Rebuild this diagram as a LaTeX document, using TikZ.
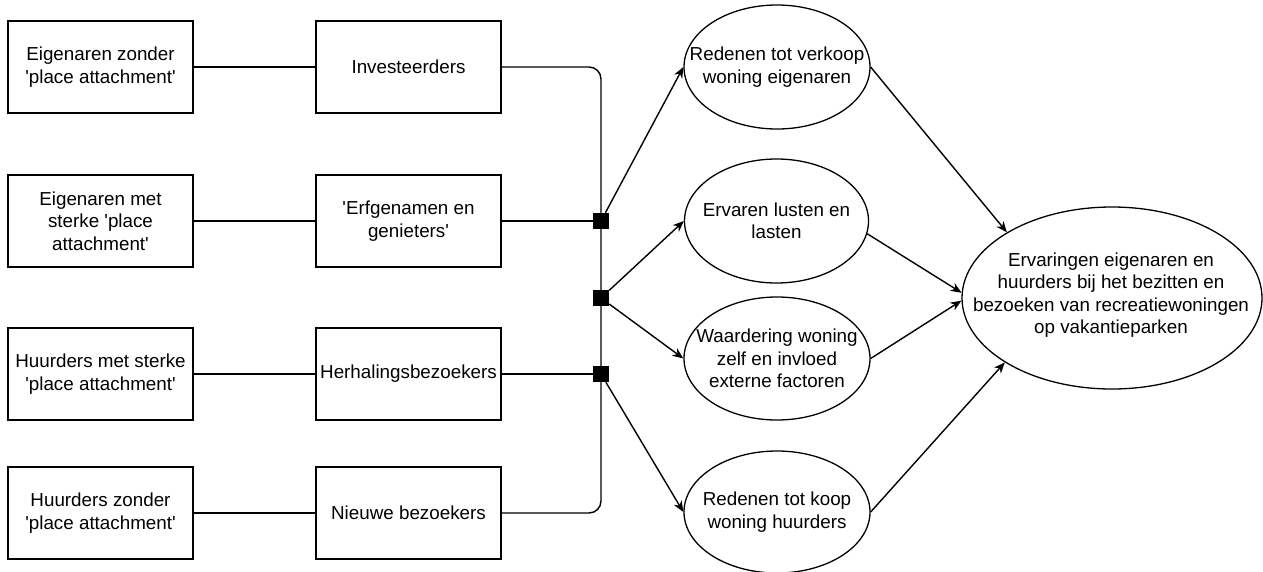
\documentclass[tikz,border=0pt]{standalone}
\usepackage{fontspec}
\setmainfont{Liberation Sans}
\usetikzlibrary{shapes.geometric,arrows.meta}
\newcommand{\qs}{\textquotesingle}
\begin{document}
\begin{tikzpicture}[x=1pt,y=-1pt,
  every node/.style={font=\fontsize{18.8}{22.5}\selectfont, align=center, inner sep=0pt},
  box/.style={draw, line width=1.4pt, minimum width=185pt, minimum height=92pt},
  oval/.style={draw, ellipse, line width=1.3pt},
  joint/.style={fill=black, minimum size=16pt},
  wire/.style={line width=1.4pt},
  arr/.style={line width=1.4pt, -{Stealth[length=11pt,width=9pt,inset=3.5pt]}}]
\useasboundingbox (0,0) rectangle (1263,571);

% groups of owners and renters
\node[box] (l1) at (100.5,67)  {Eigenaren zonder\\\qs place attachment\qs};
\node[box] (l2) at (100.5,221) {Eigenaren met\\sterke \qs place\\attachment\qs};
\node[box] (l3) at (100.5,374) {Huurders met sterke\\\qs place attachment\qs};
\node[box] (l4) at (100.5,513) {Huurders zonder\\\qs place attachment\qs};

% typology
\node[box] (m1) at (408.5,67)  {Investeerders};
\node[box] (m2) at (408.5,221) {\qs Erfgenamen en\\genieters\qs};
\node[box] (m3) at (408.5,374) {Herhalingsbezoekers};
\node[box] (m4) at (408.5,513) {Nieuwe bezoekers};

\foreach \i in {1,2,3,4} \draw[wire] (l\i.east) -- (m\i.west);

% collecting bus with junctions
\coordinate (bus) at (601,300);
\node[joint] (sq1) at (601,221) {};
\node[joint] (sq2) at (601,298) {};
\node[joint] (sq3) at (601,374) {};
\draw[wire, rounded corners=12pt] (m1.east) -| (bus) |- (m4.east);
\draw[wire] (m2.east) -- (sq1);
\draw[wire] (m3.east) -- (sq3);

% themes
\node[oval, minimum width=186pt, minimum height=124pt] (e1) at (777,67) {};
\node (e1t) at (e1) {Redenen tot verkoop\\woning eigenaren};
\node[oval, minimum width=184pt, minimum height=124pt] (e2) at (776.5,221) {};
\node (e2t) at (e2) {Ervaren lusten en\\lasten};
\node[oval, minimum width=186pt, minimum height=123pt] (e3) at (777,358.5) {};
\node (e3t) at (e3) {Waardering woning\\zelf en invloed\\externe factoren};
\node[oval, minimum width=186pt, minimum height=122pt] (e4) at (777,512) {};
\node (e4t) at (e4) {Redenen tot koop\\woning huurders};

% central concept
\node[oval, minimum width=300pt, minimum height=182pt] (E) at (1112,298) {};
\node (Et) at (1111,295) {Ervaringen eigenaren en\\huurders bij het bezitten en\\bezoeken van recreatiewoningen\\op vakantieparken};

% arrows from junctions to themes
\draw[arr] (sq1) -- (e1.west);
\draw[arr] (sq2) -- (e2.west);
\draw[arr] (sq2) -- (e3.west);
\draw[arr] (sq3) -- (e4.west);

% arrows from themes to central concept
\draw[arr] (e1.east) -- (E.148);
\draw[arr] (e2.-8) -- (E.178);
\draw[arr] (e3.east) -- (E.181);
\draw[arr] (e4.east) -- (E.211);
\end{tikzpicture}
\end{document}
